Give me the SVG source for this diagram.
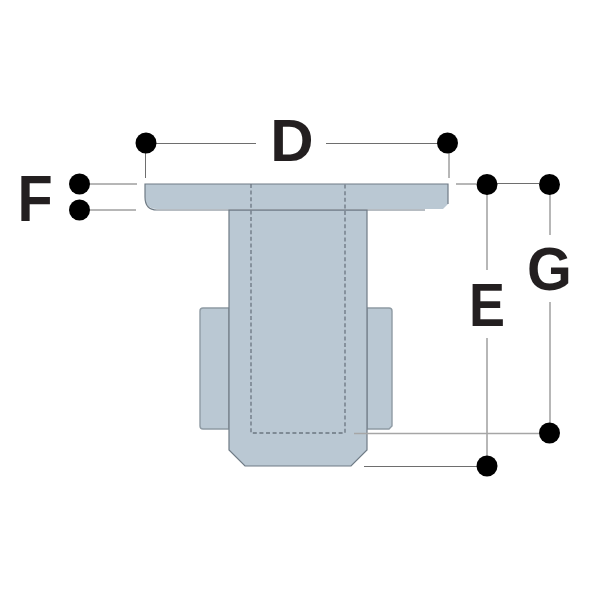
<svg xmlns="http://www.w3.org/2000/svg" width="600" height="600" viewBox="0 0 600 600">
<style>
.body{fill:#bac8d3;stroke:#6f7b85;stroke-width:1.2}
.tab{fill:#bac8d3;stroke:#8f9ba4;stroke-width:1.4}
.dash{fill:none;stroke:#6b7580;stroke-width:1.3;stroke-dasharray:4 2.6}
.ln{fill:none;stroke:#6e6e6e;stroke-width:1}
.ln2{fill:none;stroke:#a6a6a6;stroke-width:1.6}
.dot{fill:#000}
.lbl{font-family:"Liberation Sans",Arial,sans-serif;font-weight:700;fill:#231f20;text-anchor:middle}
</style>
<g id="part">
<path class="tab" d="M229 308H203Q200 308 200 311V426Q200 429 203 429H229Z"/>
<path class="tab" d="M367 308H389Q392 308 392 311V426L389 429H367Z"/>
<path class="body" d="M229 210V450L245 466H351L367 450V210Z"/>
<path d="M145 184H448V204L443 209H157Q145 209 145 197Z" fill="#bac8d3"/>
<path class="body" style="fill:none" d="M448 204V184H145V197Q145 210 157 210H425"/>
<path class="dash" d="M251 184V433H345V184"/>
</g>
<g id="connectors">
<path class="ln" d="M156 143.500H256M326 143.500H438M145.500 152V178M449 152V178M89 184H137M89 210H136M456 184H476M497 183.500H539M364 466.500H477"/>
<path class="ln2" d="M487 194V270M487 338V456M550 194V235M550 302V423M354 433.500H539"/>
</g>
<g id="dot-D-left"><circle class="dot" cx="146" cy="143" r="10.500"/></g>
<g id="dot-D-right"><circle class="dot" cx="447.500" cy="143" r="10.500"/></g>
<g id="dot-F-top"><circle class="dot" cx="79.500" cy="184" r="10.500"/></g>
<g id="dot-F-bottom"><circle class="dot" cx="79.500" cy="210" r="10.500"/></g>
<g id="dot-E-top"><circle class="dot" cx="487" cy="184.500" r="10.500"/></g>
<g id="dot-G-top"><circle class="dot" cx="549.500" cy="184.500" r="10.500"/></g>
<g id="dot-G-bottom"><circle class="dot" cx="549.500" cy="433" r="10.500"/></g>
<g id="dot-E-bottom"><circle class="dot" cx="487" cy="466" r="10.500"/></g>
<g id="labels">
<text class="lbl" font-size="60" transform="translate(292 161)">D</text>
<text class="lbl" font-size="64" transform="translate(35 221) scale(.9 1)">F</text>
<text class="lbl" font-size="62" transform="translate(487 326) scale(.87 1)">E</text>
<text class="lbl" font-size="62" transform="translate(549.500 290) scale(.93 1)">G</text>
</g>
</svg>
